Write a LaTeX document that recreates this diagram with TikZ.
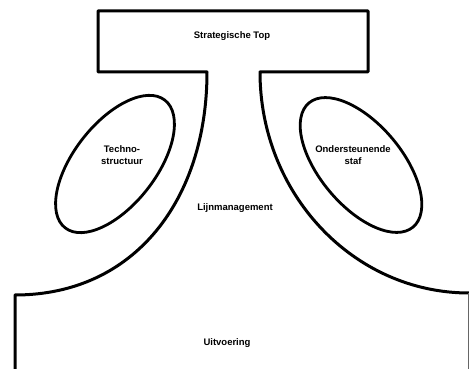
\documentclass[tikz,border=0pt]{standalone}
\usepackage{fontspec}
\setmainfont{Liberation Sans}
\usetikzlibrary{shapes.geometric}
\begin{document}
\begin{tikzpicture}[x=1pt,y=1pt,
  outline/.style={draw=black,line width=3pt,line join=round},
  staff/.style={draw=black,line width=2.8pt,ellipse,inner sep=0pt,minimum width=162pt,minimum height=82pt},
  lbl/.style={font=\fontsize{9.5}{12.5}\selectfont\bfseries,align=center,inner sep=0pt}]
\useasboundingbox (0,0) rectangle (469,369);
\fill[white] (0,0) rectangle (469,369);

% corner points of the outline
\coordinate (bl) at (15,0);
\coordinate (lend) at (15,74);
\coordinate (lstem) at (207,297);
\coordinate (rstem) at (260,297);
\coordinate (rend) at (469,76);
\coordinate (br) at (468,0);

% strategic apex, middle line and operating core as one outline
\draw[outline] (bl) -- (lend)
  .. controls (135,74) and (207,170) .. (lstem)
  -- (98,297) -- (98,358) -- (368,358) -- (368,297) -- (rstem)
  arc[start angle=180,end angle=270,x radius=209,y radius=221];
\draw[black!60,line width=1pt] (br) -- ++(0,76);

% support units
\node[staff,rotate=52] (techno) at (115,205) {};
\node[staff,rotate=-50] (staf) at (361,204) {};

% labels
\node[lbl] (top) at (232,333) {Strategische Top};
\node[lbl] (lijn) at (235,161) {Lijnmanagement};
\node[lbl] (uit) at (227,26) {Uitvoering};
\node[lbl] (tech) at (122,214) {Techno-\\structuur};
\node[lbl] (onder) at (353,214) {Ondersteunende\\staf};
\end{tikzpicture}
\end{document}
